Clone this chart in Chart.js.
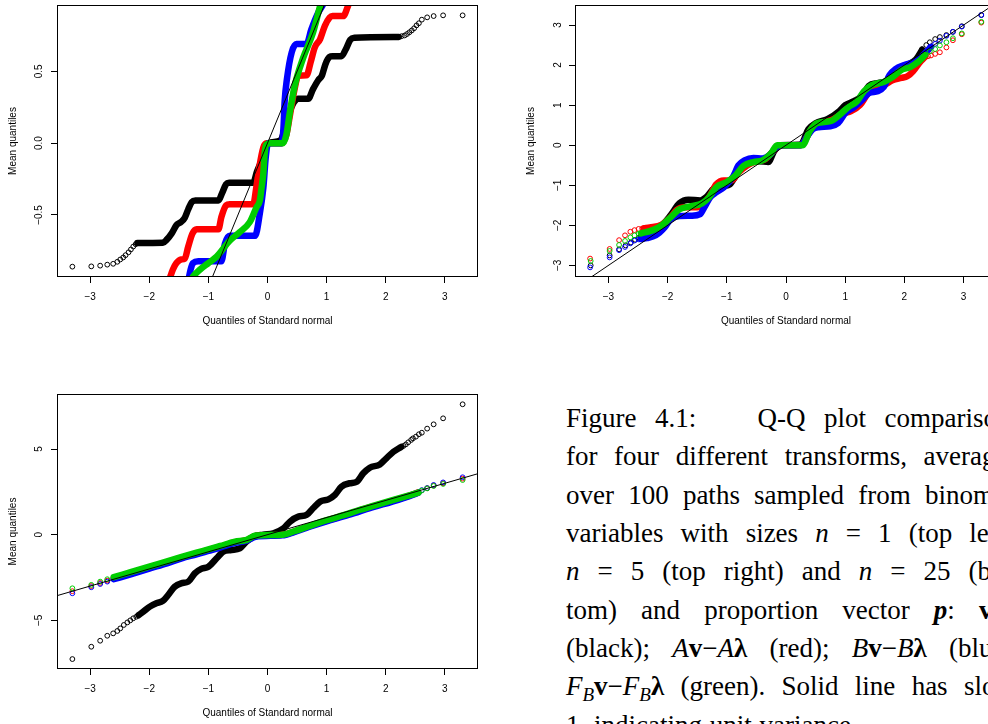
<!DOCTYPE html>
<html>
<head>
<meta charset="utf-8">
<script src="https://cdn.jsdelivr.net/npm/chart.js@4.4.1/dist/chart.umd.min.js"></script>
<style>
  html, body { margin:0; padding:0; background:#fff; width:988px; height:724px; overflow:hidden; position:relative; }
  canvas { position:absolute; }
  #cap { position:absolute; left:0; top:0; font-family:"Liberation Serif", serif; font-size:27px; color:#000; }
  .ln { position:absolute; left:566px; width:455px; display:flex; justify-content:space-between; white-space:nowrap; }
  .ln9 { position:absolute; left:566px; white-space:nowrap; word-spacing:1px; }
  .c { font-style:italic; }
</style>
</head>
<body>
<canvas id="tl" width="490" height="330" style="left:0;top:0;width:490px;height:330px"></canvas>
<canvas id="tr" width="491" height="330" style="left:518px;top:0;width:491px;height:330px"></canvas>
<canvas id="bl" width="490" height="337" style="left:0;top:385px;width:490px;height:337px"></canvas>
<div id="cap">
  <div class="ln" style="top:403px"><span>Figure</span><span style="margin-right:43px">4.1:</span><span>Q-Q</span><span>plot</span><span>comparisons</span></div>
  <div class="ln" style="top:441px"><span>for</span><span>four</span><span>different</span><span>transforms,</span><span>averaged</span></div>
  <div class="ln" style="top:480px"><span>over</span><span>100</span><span>paths</span><span>sampled</span><span>from</span><span>binomial</span></div>
  <div class="ln" style="top:518px"><span>variables</span><span>with</span><span>sizes</span><span><i>n</i></span><span>=</span><span>1</span><span>(top</span><span>left),</span></div>
  <div class="ln" style="top:556px"><span><i>n</i></span><span>=</span><span>5</span><span>(top</span><span>right)</span><span>and</span><span><i>n</i></span><span>=</span><span>25</span><span>(bot-</span></div>
  <div class="ln" style="top:595px"><span>tom)</span><span>and</span><span>proportion</span><span>vector</span><span><b><i>p</i></b>:</span><span><b>v</b>&minus;<b>&lambda;</b></span></div>
  <div class="ln" style="top:633px"><span>(black);</span><span><span class="c">A</span><b>v</b>&minus;<span class="c">A</span><b>&lambda;</b></span><span>(red);</span><span><span class="c">B</span><b>v</b>&minus;<span class="c">B</span><b>&lambda;</b></span><span>(blue);</span></div>
  <div class="ln" style="top:671px"><span><span class="c">F</span><sub style="font-size:19px"><i>B</i></sub><b>v</b>&minus;<span class="c">F</span><sub style="font-size:19px"><i>B</i></sub><b>&lambda;</b></span><span>(green).</span><span>Solid</span><span>line</span><span>has</span><span>slope</span></div>
  <div class="ln9" style="top:710px">1, indicating unit variance.</div>
</div>
<script>
// ---------------- DATA ----------------
const xTicks = [-3, -2, -1, 0, 1, 2, 3];
const tlYTicks = [-0.5, 0, 0.5];
const trYTicks = [-3, -2, -1, 0, 1, 2, 3];
const blYTicks = [-5, 0, 5];
const xTitle = 'Quantiles of Standard normal';
const yTitle = 'Mean quantiles';

// top-left (n = 1)
const tlBlackTail = [[-3.30,-0.86],[-2.98,-0.858],[-2.83,-0.853],[-2.71,-0.846],[-2.61,-0.84],[-2.54,-0.826],[-2.49,-0.81],[-2.44,-0.796],[-2.40,-0.78],[-2.35,-0.76],[-2.31,-0.74],[-2.27,-0.72],[-2.23,-0.704],
  [2.27,0.745],[2.32,0.75],[2.36,0.76],[2.40,0.772],[2.44,0.785],[2.48,0.80],[2.52,0.82],[2.56,0.835],[2.61,0.86],[2.70,0.876],[2.81,0.885],[2.97,0.89],[3.30,0.89]];
const tlBlackBand = [[-2.2,-0.695],[-1.77,-0.693],[-1.70,-0.67],[-1.62,-0.628],[-1.54,-0.571],[-1.46,-0.548],[-1.40,-0.52],[-1.34,-0.46],[-1.28,-0.41],[-1.22,-0.40],[-0.83,-0.40],[-0.77,-0.35],[-0.70,-0.285],[-0.65,-0.275],[-0.24,-0.275],[-0.18,-0.2],[-0.1,-0.12],[-0.04,-0.05],[0.02,0.0],[0.22,0.02],[0.28,0.08],[0.36,0.2],[0.44,0.28],[0.52,0.31],[0.69,0.31],[0.77,0.376],[0.86,0.44],[0.92,0.47],[0.98,0.55],[1.05,0.6],[1.1,0.605],[1.25,0.605],[1.32,0.65],[1.40,0.72],[1.47,0.734],[2.22,0.74]];
const tlRedBand = [[-1.66,-0.95],[-1.60,-0.88],[-1.54,-0.835],[-1.46,-0.81],[-1.40,-0.805],[-1.34,-0.72],[-1.27,-0.63],[-1.2,-0.60],[-0.83,-0.60],[-0.78,-0.514],[-0.70,-0.433],[-0.64,-0.425],[-0.24,-0.425],[-0.19,-0.31],[-0.14,-0.17],[-0.07,-0.03],[-0.02,0.0],[0.24,0.0],[0.32,0.06],[0.39,0.22],[0.46,0.38],[0.52,0.47],[0.66,0.472],[0.73,0.564],[0.80,0.667],[0.89,0.725],[0.97,0.817],[1.05,0.874],[1.1,0.885],[1.28,0.885],[1.36,0.954],[1.40,1.0]];
const tlBlueBand = [[-1.35,-0.98],[-1.30,-0.88],[-1.26,-0.835],[-1.17,-0.823],[-0.78,-0.823],[-0.72,-0.70],[-0.64,-0.645],[-0.21,-0.645],[-0.13,-0.49],[-0.07,-0.31],[-0.03,-0.10],[0.01,0.0],[0.24,0.0],[0.27,0.105],[0.29,0.29],[0.33,0.45],[0.41,0.633],[0.49,0.69],[0.66,0.69],[0.74,0.79],[0.86,0.91],[0.94,0.965],[0.98,1.0]];
const tlGreenBand = [[-1.30,-0.96],[-1.26,-0.93],[-1.14,-0.88],[-1.0,-0.835],[-0.86,-0.79],[-0.64,-0.68],[-0.47,-0.62],[-0.30,-0.55],[-0.19,-0.45],[-0.13,-0.40],[-0.10,-0.31],[-0.07,-0.21],[-0.05,-0.08],[-0.02,-0.01],[0.04,0.0],[0.26,0.0],[0.32,0.06],[0.38,0.22],[0.46,0.4],[0.60,0.59],[0.77,0.77],[0.88,0.94],[0.92,1.0]];

// top-right (n = 5)
const trBlackTail = [[-3.30,-3.0],[-2.98,-2.75],[-2.82,-2.6],[-2.71,-2.50],[-2.62,-2.43],[-2.55,-2.36],[-2.49,-2.31],
  [2.30,2.40],[2.37,2.5],[2.43,2.57],[2.52,2.65],[2.60,2.70],[2.71,2.75],[2.82,2.83],[2.97,2.97],[3.30,3.25]];
const trBlackBand = [[-2.45,-2.28],[-2.25,-2.1],[-2.1,-2.0],[-1.95,-1.75],[-1.8,-1.45],[-1.65,-1.36],[-1.45,-1.38],[-1.35,-1.3],[-1.22,-1.08],[-1.05,-1.02],[-0.95,-0.98],[-0.82,-0.7],[-0.65,-0.45],[-0.45,-0.4],[-0.3,-0.42],[-0.2,-0.15],[-0.1,0],[0.25,0.02],[0.38,0.4],[0.5,0.55],[0.7,0.65],[0.9,0.85],[1.0,1.0],[1.15,1.1],[1.3,1.25],[1.4,1.48],[1.55,1.55],[1.75,1.62],[1.9,1.85],[2.05,2.0],[2.2,2.15],[2.3,2.38]];
const trRedTail = [[-3.31,-2.83],[-2.98,-2.59],[-2.82,-2.37],[-2.72,-2.25],[-2.63,-2.16],[-2.56,-2.12],[-2.49,-2.09],[-2.43,-2.08],
  [2.40,2.22],[2.45,2.24],[2.52,2.28],[2.60,2.32],[2.71,2.44],[2.82,2.62],[2.97,2.77],[3.30,3.06]];
const trRedBand = [[-2.4,-2.07],[-2.3,-2.05],[-2.1,-1.98],[-1.95,-1.8],[-1.85,-1.62],[-1.7,-1.55],[-1.5,-1.55],[-1.38,-1.45],[-1.28,-1.25],[-1.18,-0.98],[-1.05,-0.88],[-0.92,-0.88],[-0.8,-0.68],[-0.65,-0.5],[-0.5,-0.4],[-0.35,-0.35],[-0.2,-0.12],[-0.1,0],[0.25,0],[0.35,0.2],[0.45,0.45],[0.6,0.55],[0.8,0.65],[0.95,0.78],[1.1,0.85],[1.25,1.0],[1.38,1.28],[1.5,1.45],[1.65,1.5],[1.8,1.62],[1.95,1.68],[2.05,1.72],[2.15,1.85],[2.25,2.05],[2.35,2.2]];
const trBlueTail = [[-3.31,-3.05],[-2.98,-2.80],[-2.82,-2.62],[-2.72,-2.54],[-2.63,-2.45],[-2.56,-2.38],[-2.49,-2.35],
  [2.43,2.45],[2.52,2.53],[2.60,2.61],[2.71,2.73],[2.82,2.83],[2.97,2.96],[3.30,3.25]];
const trBlueBand = [[-2.45,-2.34],[-2.35,-2.32],[-2.2,-2.25],[-2.05,-2.05],[-1.95,-1.85],[-1.8,-1.77],[-1.6,-1.76],[-1.45,-1.72],[-1.38,-1.55],[-1.28,-1.3],[-1.2,-1.2],[-1.05,-1.05],[-0.9,-0.8],[-0.8,-0.5],[-0.7,-0.38],[-0.55,-0.32],[-0.4,-0.33],[-0.28,-0.25],[-0.18,-0.08],[-0.1,0.0],[0.25,0.0],[0.35,0.2],[0.45,0.4],[0.55,0.45],[0.75,0.47],[0.88,0.55],[1.0,0.8],[1.15,0.95],[1.3,1.15],[1.4,1.3],[1.55,1.35],[1.65,1.45],[1.75,1.75],[1.85,1.9],[2.0,2.0],[2.2,2.1],[2.35,2.3],[2.45,2.45]];
const trGreenTail = [[-3.30,-2.89],[-2.98,-2.64],[-2.82,-2.49],[-2.72,-2.39],[-2.63,-2.30],[-2.56,-2.25],[-2.49,-2.21],
  [2.43,2.34],[2.52,2.40],[2.60,2.49],[2.71,2.57],[2.82,2.67],[2.97,2.79],[3.30,3.08]];
const trGreenBand = [[-2.45,-2.2],[-2.25,-2.12],[-2.1,-2.0],[-1.95,-1.8],[-1.8,-1.6],[-1.6,-1.52],[-1.42,-1.45],[-1.3,-1.3],[-1.18,-1.05],[-1.0,-0.92],[-0.85,-0.75],[-0.72,-0.52],[-0.55,-0.42],[-0.4,-0.38],[-0.25,-0.2],[-0.15,0],[0.28,0],[0.4,0.35],[0.52,0.55],[0.75,0.6],[0.9,0.75],[1.05,0.95],[1.2,1.1],[1.32,1.35],[1.45,1.5],[1.65,1.58],[1.8,1.7],[1.95,1.88],[2.1,1.95],[2.25,2.1],[2.35,2.25]];

// bottom-left (n = 25)
const blBlackTail = [[-3.30,-7.26],[-2.98,-6.54],[-2.83,-6.19],[-2.71,-5.9],[-2.61,-5.76],[-2.54,-5.62],[-2.49,-5.47],[-2.43,-5.27],[-2.37,-5.12],[-2.32,-5.0],[-2.27,-4.88],[-2.22,-4.79],
  [2.30,5.18],[2.34,5.27],[2.38,5.39],[2.43,5.53],[2.46,5.62],[2.51,5.72],[2.56,5.86],[2.61,5.95],[2.70,6.19],[2.81,6.44],[2.97,6.79],[3.30,7.61]];
const blBlackBand = [[-2.18,-4.7],[-2.10,-4.49],[-1.99,-4.2],[-1.88,-4.0],[-1.77,-3.87],[-1.68,-3.52],[-1.57,-3.04],[-1.46,-2.84],[-1.34,-2.74],[-1.23,-2.26],[-1.12,-2.0],[-1.0,-1.87],[-0.86,-1.38],[-0.75,-0.99],[-0.61,-0.89],[-0.47,-0.8],[-0.36,-0.41],[-0.24,-0.12],[-0.07,0],[0.1,0.08],[0.27,0.37],[0.38,0.76],[0.52,1.05],[0.66,1.15],[0.77,1.54],[0.89,1.93],[1.03,2.06],[1.14,2.32],[1.25,2.8],[1.39,3.0],[1.51,3.09],[1.62,3.58],[1.73,3.91],[1.90,4.1],[2.01,4.46],[2.13,4.84],[2.26,5.12]];
const blRedTail = [[-3.30,-3.3],[-2.98,-3.0],[-2.83,-2.82],[-2.71,-2.68],[2.70,2.71],[2.81,2.87],[2.97,3.0],[3.30,3.27]];
const blRedBand = [[-2.6,-2.55],[-2.3,-2.25],[-2.0,-1.92],[-1.7,-1.62],[-1.45,-1.34],[-1.2,-1.1],[-1.0,-0.9],[-0.8,-0.7],[-0.55,-0.44],[-0.35,-0.32],[-0.2,-0.08],[0.25,-0.01],[0.45,0.18],[0.7,0.48],[1.0,0.82],[1.3,1.12],[1.55,1.4],[1.8,1.66],[2.1,1.96],[2.4,2.28],[2.55,2.47]];
const blBlueTail = [[-3.30,-3.42],[-2.98,-3.07],[-2.83,-2.88],[-2.71,-2.74],[2.61,2.6],[2.70,2.72],[2.81,2.9],[2.97,3.05],[3.30,3.35]];
const blBlueBand = [[-2.6,-2.6],[-2.3,-2.3],[-2.0,-1.98],[-1.7,-1.68],[-1.45,-1.38],[-1.2,-1.15],[-1.0,-0.95],[-0.8,-0.75],[-0.55,-0.48],[-0.35,-0.35],[-0.2,-0.12],[0.25,-0.04],[0.45,0.15],[0.7,0.45],[1.0,0.78],[1.3,1.08],[1.55,1.35],[1.8,1.62],[2.1,1.92],[2.4,2.25],[2.55,2.45]];
const blGreenTail = [[-3.30,-3.13],[-2.98,-2.93],[-2.83,-2.74],[-2.71,-2.6],[2.61,2.58],[2.70,2.7],[2.81,2.84],[2.97,2.96],[3.30,3.19]];
const blGreenBand = [[-2.6,-2.48],[-2.3,-2.17],[-2.0,-1.86],[-1.7,-1.56],[-1.45,-1.3],[-1.2,-1.05],[-1.0,-0.86],[-0.8,-0.66],[-0.55,-0.41],[-0.35,-0.3],[-0.2,-0.05],[0.25,0.0],[0.45,0.2],[0.7,0.5],[1.0,0.85],[1.3,1.15],[1.55,1.44],[1.8,1.7],[2.1,2.0],[2.4,2.3],[2.55,2.45]];

// slope-1 reference line through the origin
const refLine = [[-10,-10],[10,10]];

// ---------------- RENDERING ----------------
const COL = { black:'#000000', red:'#FF0000', blue:'#0000FF', green:'#00CD00' };
const ORDER = { green:1, blue:2, red:3, black:4 };
Chart.defaults.font.family = '"Liberation Sans", Arial, sans-serif';
Chart.defaults.color = '#000';

const pts = a => a.map(p => ({x:p[0], y:p[1]}));
function band(arr, c) {
  return { data: pts(arr), showLine:true, pointRadius:0, borderColor:COL[c], borderWidth:6.5,
    borderCapStyle:'round', borderJoinStyle:'round', cubicInterpolationMode:'monotone', order:ORDER[c], clip:0 };
}
function tail(arr, c) {
  return { data: pts(arr), showLine:false, pointRadius:2.4, pointBorderWidth:1, pointStyle:'circle',
    pointBackgroundColor:'rgba(0,0,0,0)', pointBorderColor:COL[c], order:ORDER[c], clip:0 };
}
function ref() {
  return { data: pts(refLine), showLine:true, pointRadius:0, borderColor:'#000', borderWidth:1, order:0, clip:0 };
}
const boxPlugin = { id:'box', afterDatasetsDraw(chart) {
  const a = chart.chartArea, ctx = chart.ctx;
  ctx.save(); ctx.strokeStyle = '#000'; ctx.lineWidth = 1;
  ctx.strokeRect(Math.round(a.left)+0.5, Math.round(a.top)+0.5, Math.round(a.right-a.left)-1, Math.round(a.bottom-a.top)-1);
  ctx.restore();
}};
const fmtInt = v => (v < 0 ? '\u2212' : '') + Math.abs(v);
const fmt1 = v => (v < 0 ? '\u2212' : '') + Math.abs(v).toFixed(1);
const noPad = s => { s.paddingTop = 0; s.paddingBottom = 0; s.paddingLeft = 0; s.paddingRight = 0; };

function makeChart(id, datasets, o) {
  const font = { size:10, family:'"Liberation Sans", Arial, sans-serif' };
  new Chart(document.getElementById(id), {
    type:'scatter',
    data:{ datasets },
    options:{
      animation:false, responsive:false, devicePixelRatio:1,
      events:[],
      layout:{ padding:{ top:o.padTop, right:o.padRight, bottom:0, left:0 } },
      plugins:{ legend:{display:false}, tooltip:{enabled:false} },
      scales:{
        x:{ type:'linear', min:o.xmin, max:o.xmax,
          afterBuildTicks: s => { s.ticks = xTicks.map(v => ({value:v})); },
          afterFit: s => { s.height = 53; noPad(s); },
          grid:{ display:true, drawOnChartArea:false, drawTicks:true, tickLength:6, color:'#000', lineWidth:1 },
          border:{ display:false },
          ticks:{ font, color:'#000', padding:8, maxRotation:0, autoSkip:false, callback:fmtInt },
          title:{ display:true, text:xTitle, font, color:'#000', padding:{top:0, bottom:3} } },
        y:{ type:'linear', min:o.ymin, max:o.ymax,
          afterBuildTicks: s => { s.ticks = o.yTicks.map(v => ({value:v})); },
          afterFit: s => { s.width = 57; noPad(s); },
          grid:{ display:true, drawOnChartArea:false, drawTicks:true, tickLength:6, color:'#000', lineWidth:1 },
          border:{ display:false },
          ticks:{ font, color:'#000', padding:o.yPad, minRotation:90, maxRotation:90, crossAlign:'center', autoSkip:false, callback:o.yFmt },
          title:{ display:true, text:yTitle, font, color:'#000', padding:{top:7, bottom:0} } }
      }
    },
    plugins:[boxPlugin]
  });
}

makeChart('tl', [
  ref(),
  band(tlGreenBand,'green'), band(tlBlueBand,'blue'), band(tlRedBand,'red'),
  tail(tlBlackTail,'black'), band(tlBlackBand,'black')
], { padTop:2, padRight:12, xmin:-3.56, xmax:3.56, ymin:-0.932, ymax:0.962, yTicks:tlYTicks, yFmt:fmt1, yPad:2 });

makeChart('tr', [
  ref(),
  tail(trGreenTail,'green'), band(trGreenBand,'green'),
  tail(trBlueTail,'blue'), band(trBlueBand,'blue'),
  tail(trRedTail,'red'), band(trRedBand,'red'),
  tail(trBlackTail,'black'), band(trBlackBand,'black')
], { padTop:2, padRight:12, xmin:-3.565, xmax:3.565, ymin:-3.29, ymax:3.50, yTicks:trYTicks, yFmt:fmtInt, yPad:5 });

makeChart('bl', [
  ref(),
  tail(blGreenTail,'green'), band(blGreenBand,'green'),
  tail(blBlueTail,'blue'), band(blBlueBand,'blue'),
  tail(blRedTail,'red'), band(blRedBand,'red'),
  tail(blBlackTail,'black'), band(blBlackBand,'black')
], { padTop:9, padRight:12, xmin:-3.56, xmax:3.56, ymin:-7.84, ymax:8.21, yTicks:blYTicks, yFmt:fmtInt, yPad:6 });
</script>
</body>
</html>
